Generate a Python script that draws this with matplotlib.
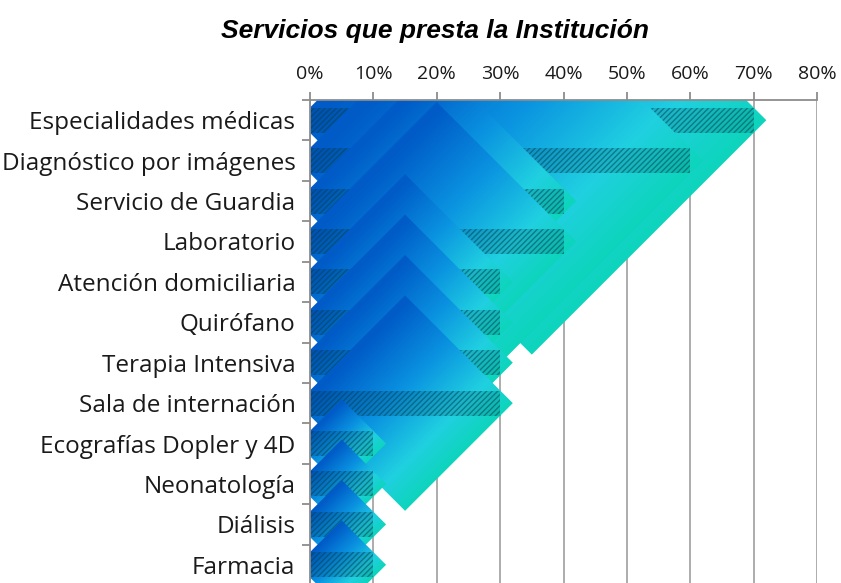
import numpy as np
import matplotlib.pyplot as plt
from matplotlib.colors import LinearSegmentedColormap
from matplotlib.patches import Polygon, Rectangle

servicios = ['Especialidades médicas', 'Diagnóstico por imágenes', 'Servicio de Guardia',
             'Laboratorio', 'Atención domiciliaria', 'Quirófano', 'Terapia Intensiva',
             'Sala de internación', 'Ecografías Dopler y 4D', 'Neonatología', 'Diálisis',
             'Farmacia']
porcentajes = [70, 60, 40, 40, 30, 30, 30, 30, 10, 10, 10, 10]
ticks_x = [0, 10, 20, 30, 40, 50, 60, 70, 80]

cmap = LinearSegmentedColormap.from_list(
    'azul_verde', [(0, '#004abb'), (0.27, '#005cc8'), (0.46, '#0a92e0'),
                   (0.64, '#20d0e0'), (0.78, '#08d6b2'), (1, '#00d4a0')])

fig = plt.figure(figsize=(8.41, 5.83), dpi=100)
ax = fig.add_axes([310 / 841, -2 / 583, 507 / 841, 485 / 583])

# relacion px por % / px por categoria, para que el rombo quede a 45 grados
k = 6.34 / 40.45


def gradiente(x0, x1, y0, y1, xc, yc, h):
    xs = np.linspace(x0, x1, 200)
    ys = np.linspace(y0, y1, 200)
    X, Y = np.meshgrid(xs, ys)
    t = ((X - xc) / h + (Y - yc) / (h * k)) / 4 + 0.5
    return np.clip(t, 0, 1)


for i, v in enumerate(porcentajes):
    c = v / 2
    h = v / 2 + 2
    hk = h * k
    z = 3 + i * 4
    rombo = Polygon([(c - h, i), (c, i - hk), (c + h, i), (c, i + hk)],
                    closed=True, transform=ax.transData, facecolor='none', lw=0)
    ax.add_patch(rombo)
    im = ax.imshow(gradiente(c - h, c + h, i - hk, i + hk, c, i, h), cmap=cmap,
                   vmin=0, vmax=1, origin='lower', aspect='auto',
                   extent=(c - h, c + h, i - hk, i + hk), zorder=z, interpolation='bilinear')
    im.set_clip_path(rombo)

    # barra con rayado oscuro
    barra = Rectangle((0, i - 0.31), v, 0.62, transform=ax.transData,
                      facecolor='none', lw=0)
    ax.add_patch(barra)
    im2 = ax.imshow(gradiente(0, v, i - 0.31, i + 0.31, c, i, h), cmap=cmap,
                    vmin=0, vmax=1, origin='lower', aspect='auto',
                    extent=(0, v, i - 0.31, i + 0.31), zorder=z + 1, interpolation='bilinear')
    im2.set_clip_path(barra)
    ax.add_patch(Rectangle((0, i - 0.31), v, 0.62, facecolor=(0, 0.15, 0.25, 0.15),
                           edgecolor=(0, 0.25, 0.3, 0.5), hatch='//////', lw=0, zorder=z + 2))

ax.set_xlim(0, 80)
ax.set_ylim(len(servicios) - 0.5, -0.5)

ax.set_xticks(ticks_x)
ax.set_xticklabels([f'{t}%' for t in ticks_x])
ax.xaxis.tick_top()
ax.grid(axis='x', color='#a6a6a6', lw=1.3)
ax.set_axisbelow(True)

ax.set_yticks(range(len(servicios)))
ax.set_yticklabels(servicios)
ax.set_yticks(np.arange(-0.5, len(servicios), 1), minor=True)
ax.tick_params(axis='y', which='major', length=0, pad=10.5)
ax.tick_params(axis='y', which='minor', length=6, width=1.3, color='#8c8c8c')
ax.tick_params(axis='x', length=6, width=1.3, color='#8c8c8c', pad=6)
for lab in ax.get_xticklabels():
    lab.set_fontfamily('Open Sans')
    lab.set_fontsize(14)
    lab.set_color('#1a1a1a')
for lab in ax.get_yticklabels():
    lab.set_fontfamily('Open Sans')
    lab.set_fontsize(17.5)
    lab.set_color('#1a1a1a')

for lado in ['right', 'bottom']:
    ax.spines[lado].set_visible(False)
for lado in ['top', 'left']:
    ax.spines[lado].set_color('#8c8c8c')
    ax.spines[lado].set_linewidth(1.3)
    ax.spines[lado].set_zorder(100)

fig.text(435 / 841, 1 - 31 / 583, 'Servicios que presta la Institución', ha='center', va='center',
         fontfamily='Liberation Sans', fontweight='bold', fontstyle='italic', fontsize=19)

fig.savefig('out.png', dpi=100)
